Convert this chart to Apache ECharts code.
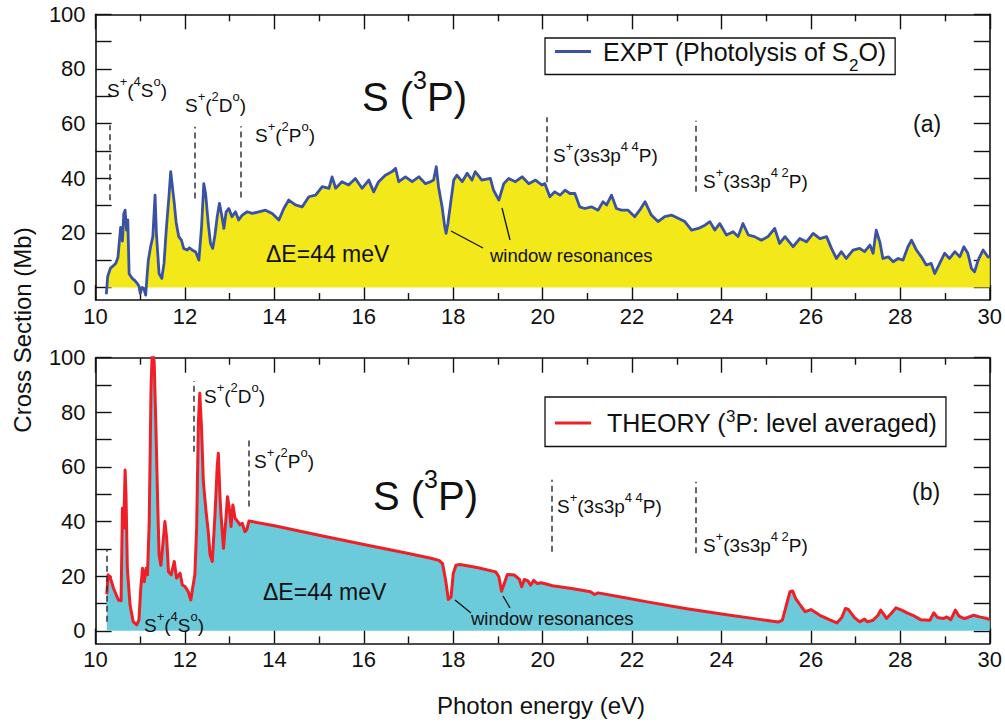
<!DOCTYPE html>
<html>
<head>
<meta charset="utf-8">
<script src="https://cdn.jsdelivr.net/npm/echarts@6/dist/echarts.min.js"></script>
<style>
  html, body { margin: 0; padding: 0; background: #fff; }
  #chart { width: 1005px; height: 722px; }
</style>
</head>
<body>
<div id="chart"></div>
<script>
// Photoionization cross section of atomic sulfur, S(3P)
// (a) measurement, (b) R-matrix theory, both convolved to 44 meV

const energyExpt = [
  10.24, 10.27, 10.33, 10.40, 10.45, 10.50, 10.56, 10.60, 10.63, 10.66,
  10.69, 10.72, 10.75, 10.82, 10.88, 10.93, 10.97, 11.00, 11.04, 11.08,
  11.12, 11.15, 11.18, 11.23, 11.28, 11.33, 11.36, 11.42, 11.48, 11.53,
  11.58, 11.64, 11.68, 11.71, 11.76, 11.80, 11.86, 11.92, 11.97, 12.05,
  12.10, 12.16, 12.24, 12.31, 12.37, 12.42, 12.46, 12.52, 12.57, 12.62,
  12.67, 12.72, 12.77, 12.82, 12.87, 12.92, 12.98, 13.05, 13.13, 13.20,
  13.28, 13.39, 13.50, 13.65, 13.80, 13.95, 14.10, 14.21, 14.32, 14.47,
  14.62, 14.77, 14.92, 15.07, 15.22, 15.29, 15.37, 15.51, 15.66, 15.81,
  15.96, 16.11, 16.22, 16.33, 16.48, 16.63, 16.71, 16.78, 16.93, 17.08,
  17.23, 17.38, 17.49, 17.56, 17.62, 17.67, 17.75, 17.81, 17.84, 17.88,
  17.94, 18.01, 18.08, 18.20, 18.31, 18.42, 18.49, 18.64, 18.83, 18.90,
  19.02, 19.13, 19.24, 19.39, 19.54, 19.69, 19.84, 19.98, 20.05, 20.16,
  20.27, 20.39, 20.50, 20.61, 20.72, 20.83, 20.94, 21.09, 21.24, 21.35,
  21.43, 21.54, 21.65, 21.76, 21.91, 22.06, 22.17, 22.29, 22.43, 22.58,
  22.73, 22.88, 23.03, 23.18, 23.33, 23.48, 23.63, 23.74, 23.85, 23.96,
  24.11, 24.26, 24.37, 24.48, 24.60, 24.74, 24.89, 25.04, 25.19, 25.30,
  25.42, 25.60, 25.75, 25.90, 26.05, 26.20, 26.35, 26.46, 26.57, 26.68,
  26.79, 26.94, 27.09, 27.20, 27.32, 27.39, 27.46, 27.54, 27.61, 27.73,
  27.84, 27.95, 28.06, 28.17, 28.25, 28.36, 28.47, 28.58, 28.69, 28.77,
  28.88, 28.99, 29.10, 29.22, 29.33, 29.42, 29.51, 29.59, 29.66, 29.74,
  29.85, 29.96, 30.00
];
const sigmaExpt = [
  -2.5, 4.0, 7.0, 8.0, 8.8, 11.0, 22.0, 17.0, 27.0, 28.3,
  21.0, 24.7, 5.0, 3.3, 2.5, 1.5, 0.5, -2.2, 0.0, -0.4,
  -2.8, 4.0, 10.0, 14.9, 18.6, 33.8, 19.8, 5.1, 3.3, 8.8,
  21.0, 33.2, 42.4, 38.0, 30.8, 24.0, 18.6, 17.3, 14.3, 13.7,
  14.5, 13.7, 13.0, 10.0, 22.2, 38.0, 34.4, 23.4, 16.1, 14.3,
  19.2, 25.9, 30.8, 26.5, 21.6, 27.7, 28.9, 25.9, 27.7, 24.7,
  26.5, 27.7, 27.1, 27.7, 28.3, 27.1, 24.7, 28.9, 32.0, 30.2,
  29.5, 33.2, 33.8, 36.9, 36.3, 40.5, 36.3, 38.7, 37.5, 39.9,
  36.3, 39.3, 35.0, 38.7, 41.1, 42.4, 43.6, 38.7, 40.5, 38.7,
  40.5, 38.0, 38.7, 39.3, 44.2, 36.9, 29.5, 22.2, 19.8, 23.4,
  30.8, 39.3, 41.1, 38.7, 41.8, 39.3, 42.4, 39.3, 39.9, 35.6,
  32.0, 38.0, 39.9, 38.7, 40.5, 38.0, 39.3, 37.5, 38.0, 33.2,
  35.0, 33.8, 35.6, 34.4, 34.4, 29.5, 28.9, 29.5, 28.3, 31.4,
  30.2, 33.8, 28.9, 28.3, 28.3, 25.9, 28.3, 31.4, 26.5, 24.1,
  25.9, 26.5, 25.3, 24.1, 21.0, 21.6, 22.8, 24.1, 21.0, 23.4,
  19.2, 20.4, 18.6, 23.4, 19.2, 18.6, 17.3, 18.6, 21.6, 16.1,
  18.6, 14.9, 17.9, 16.7, 19.8, 17.9, 18.6, 14.3, 10.6, 13.1,
  10.6, 13.7, 14.3, 13.1, 15.5, 12.5, 21.0, 16.7, 10.6, 11.2,
  9.4, 10.6, 10.0, 14.9, 17.3, 13.7, 11.2, 8.2, 8.8, 5.1,
  8.8, 12.5, 10.6, 13.1, 11.2, 14.9, 12.5, 7.0, 5.7, 10.0,
  13.7, 11.2, 11.0
];

const energyTheory = [
  10.25, 10.28, 10.32, 10.40, 10.51, 10.57, 10.60, 10.63, 10.66, 10.68,
  10.71, 10.77, 10.84, 10.92, 10.97, 11.01, 11.05, 11.09, 11.13, 11.16,
  11.20, 11.24, 11.27, 11.31, 11.35, 11.39, 11.42, 11.46, 11.51, 11.55,
  11.59, 11.63, 11.69, 11.76, 11.81, 11.89, 11.94, 12.00, 12.07, 12.13,
  12.17, 12.22, 12.26, 12.30, 12.33, 12.37, 12.41, 12.47, 12.52, 12.56,
  12.61, 12.67, 12.72, 12.745, 12.78, 12.80, 12.86, 12.91, 12.95, 12.99,
  13.03, 13.07, 13.12, 13.18, 13.23, 13.28, 13.34, 13.38, 13.43, 14.00,
  15.00, 16.00, 17.00, 17.50, 17.68, 17.76, 17.83, 17.89, 17.95, 18.00,
  18.06, 18.15, 18.53, 18.95, 19.02, 19.08, 19.14, 19.21, 19.37, 19.48,
  19.53, 19.59, 19.67, 19.73, 19.80, 19.88, 19.97, 20.22, 20.65, 21.07,
  21.16, 21.24, 21.75, 22.34, 23.19, 24.04, 24.89, 25.27, 25.36, 25.44,
  25.53, 25.59, 25.66, 25.78, 25.87, 26.00, 26.08, 26.20, 26.41, 26.58,
  26.69, 26.77, 26.84, 26.97, 27.09, 27.20, 27.26, 27.39, 27.50, 27.56,
  27.62, 27.69, 27.81, 27.90, 28.03, 28.15, 28.28, 28.45, 28.66, 28.75,
  28.83, 28.96, 29.04, 29.13, 29.23, 29.31, 29.43, 29.51, 29.64, 29.77,
  29.94, 30.00
];
const sigmaTheory = [
  13.4, 20.5, 19.9, 15.6, 11.3, 11.0, 44.9, 37.6, 58.9, 49.8,
  22.9, 9.5, 3.4, 2.2, 4.0, 15.6, 22.9, 18.0, 22.9, 20.5,
  40.0, 88.8, 104.0, 98.5, 74.0, 46.0, 27.8, 24.0, 32.7, 40.0,
  33.9, 21.7, 20.5, 25.4, 19.3, 21.1, 16.8, 16.2, 14.4, 11.3,
  15.6, 20.5, 37.6, 76.6, 87.0, 74.1, 54.6, 43.7, 36.3, 27.8,
  25.4, 42.4, 60.0, 65.0, 50.0, 43.7, 30.2, 40.0, 49.1, 44.9,
  38.2, 46.1, 41.2, 40.0, 38.8, 39.4, 36.3, 37.0, 40.2, 38.5,
  35.0, 31.6, 28.3, 26.6, 25.8, 24.6, 18.5, 11.5, 12.4, 21.0,
  24.0, 24.3, 23.2, 21.6, 19.8, 14.5, 17.3, 20.6, 20.4, 18.8,
  16.1, 18.8, 18.3, 16.7, 18.5, 17.3, 17.6, 16.5, 15.5, 14.3,
  13.3, 13.9, 12.4, 10.6, 8.2, 6.1, 4.1, 3.2, 3.9, 8.8,
  14.3, 14.6, 11.8, 9.0, 7.0, 7.8, 7.0, 5.7, 4.1, 2.9,
  4.9, 8.2, 7.8, 4.9, 3.3, 4.3, 3.3, 3.9, 5.7, 7.6,
  6.3, 4.5, 6.6, 8.4, 7.6, 6.6, 5.7, 4.1, 3.9, 6.6,
  4.9, 4.5, 5.1, 4.1, 7.6, 5.4, 4.5, 4.9, 5.7, 5.1,
  4.5, 4.1
];

// ionization thresholds of S+ states (eV) and the vertical span of each dashed marker (Mb)
const thresholdEnergyA = [10.32, 12.22, 13.25, 20.10, 23.43];
const thresholdLowA    = [31.9, 32.6, 32.9, 38.5, 35.0];
const thresholdHighA   = [59.4, 58.8, 59.0, 62.3, 61.0];
const thresholdEnergyB = [10.25, 12.20, 13.43, 20.20, 23.43];
const thresholdLowB    = [3.3, 65.6, 45.5, 29.0, 28.4];
const thresholdHighB   = [29.6, 91.5, 71.1, 55.3, 54.6];

const xTickLabels = [10, 12, 14, 16, 18, 20, 22, 24, 26, 28, 30];
const yTickValues = [0, 10, 20, 30, 40, 50, 60, 70, 80, 90, 100];
const yTickLabels = [0, 20, 40, 60, 80, 100];

const NAME_EXPT = 'EXPT (Photolysis of S2O)';
const NAME_THEORY = 'THEORY (3P: level averaged)';

const FONT = "'Liberation Sans', Arial, Helvetica, sans-serif";
const INK = '#111';
const BLUE = '#3a52a4';
const YELLOW = '#f2e81a';
const RED = '#ee1f26';
const CYAN = '#6ccbdb';

const chart = echarts.init(document.getElementById('chart'), null, { renderer: 'svg' });

function pairs(xs, ys) { return xs.map((x, i) => [x, ys[i]]); }

function thresholdLines(es, lo, hi) {
  return es.map((e, i) => [{ coord: [e, lo[i]] }, { coord: [e, hi[i]] }]);
}

function xAxisFor(grid, pos, labels) {
  return {
    type: 'value', gridIndex: grid, position: pos, min: 10, max: 30, interval: 2,
    axisLine: { show: true, onZero: false, lineStyle: { color: INK, width: 1.6 } },
    axisTick: { show: true, inside: true, length: 15, lineStyle: { color: INK, width: 1.4 } },
    minorTick: { show: true, splitNumber: 2, length: 7, lineStyle: { color: INK, width: 1.4 } },
    axisLabel: {
      show: labels, fontSize: 22, fontFamily: FONT, color: INK, margin: 5,
      customValues: xTickLabels
    },
    splitLine: { show: false }, minorSplitLine: { show: false }
  };
}

function yAxisFor(grid, pos, labels) {
  return {
    type: 'value', gridIndex: grid, position: pos, min: -4.6, max: 100,
    axisLine: { show: true, onZero: false, lineStyle: { color: INK, width: 1.6 } },
    axisTick: { show: true, inside: true, length: 16, customValues: yTickValues,
                lineStyle: { color: INK, width: 1.4 } },
    axisLabel: { show: labels, customValues: yTickLabels, fontSize: 22, fontFamily: FONT,
                 color: INK, margin: 10 },
    splitLine: { show: false }
  };
}

// rich-text styles for superscripts and subscripts
function richSup(size, sup, lineN, lineS) {
  return {
    n: { fontSize: size, fontFamily: FONT, fill: INK, color: INK, lineHeight: lineN, verticalAlign: 'middle' },
    sup: { fontSize: sup, fontFamily: FONT, fill: INK, color: INK, lineHeight: lineS, verticalAlign: 'top' }
  };
}

const smallRich = richSup(19, 13, 30, 14);
const bigRich = richSup(40, 25, 60, 25);

function label(x, y, text, rich) {
  return { type: 'text', silent: true, z: 100, style: { x: x, y: y, text: text, rich: rich,
           align: 'left', verticalAlign: 'middle' } };
}
function plain(x, y, text, size, extra) {
  return Object.assign({ type: 'text', silent: true, z: 100,
    style: { x: x, y: y, text: text, font: size + 'px ' + FONT, fill: INK,
             align: 'left', verticalAlign: 'middle' } }, extra || {});
}
function leader(x1, y1, x2, y2) {
  return { type: 'line', silent: true, z: 100, shape: { x1: x1, y1: y1, x2: x2, y2: y2 },
           style: { stroke: INK, lineWidth: 1.3 } };
}

const S4S = '{n|S}{sup|+}{n|(}{sup|4}{n|S}{sup|o}{n|)}';
const S2D = '{n|S}{sup|+}{n|(}{sup|2}{n|D}{sup|o}{n|)}';
const S2P = '{n|S}{sup|+}{n|(}{sup|2}{n|P}{sup|o}{n|)}';
const S4P = '{n|S}{sup|+}{n|(3s3p}{sup|4 4}{n|P)}';
const S22P = '{n|S}{sup|+}{n|(3s3p}{sup|4 2}{n|P)}';
const TITLE = '{n|S (}{sup|3}{n|P)}';

const graphics = [
  // panel (a)
  label(107, 90, S4S, smallRich),
  label(185, 105, S2D, smallRich),
  label(255, 135, S2P, smallRich),
  label(553, 155, S4P, smallRich),
  label(703, 181, S22P, smallRich),
  label(362, 97, TITLE, bigRich),
  plain(913, 124, '(a)', 23),
  plain(266, 254, 'ΔE=44 meV', 23),
  plain(490, 255, 'window resonances', 18.5),
  leader(451, 231, 483, 248),
  leader(502, 208, 510, 240),
  // panel (b)
  label(204, 396, S2D, smallRich),
  label(254, 461, S2P, smallRich),
  label(557, 506, S4P, smallRich),
  label(703, 545, S22P, smallRich),
  label(144, 625, S4S, smallRich),
  label(373, 496, TITLE, bigRich),
  plain(912, 492, '(b)', 23),
  plain(263, 592, 'ΔE=44 meV', 23),
  plain(471, 618, 'window resonances', 18.5),
  leader(455, 600, 471, 613),
  leader(503, 596, 510, 608),
  // axis titles
  plain(22, 330, 'Cross Section (Mb)', 24,
        { rotation: Math.PI / 2, originX: 22, originY: 330 }),
  plain(541, 705, 'Photon energy (eV)', 24)
];
graphics[graphics.length - 2].style.align = 'center';
graphics[graphics.length - 1].style.align = 'center';

const dashStyle = { color: '#333', width: 1.5, type: [6, 4] };

const option = {
  animation: false,
  backgroundColor: '#fff',
  grid: [
    { left: 95.6, top: 14.3, width: 894.4, height: 285.7 },
    { left: 95.6, top: 357.7, width: 894.4, height: 285.7 }
  ],
  xAxis: [
    xAxisFor(0, 'bottom', true), xAxisFor(0, 'top', false),
    xAxisFor(1, 'bottom', true), xAxisFor(1, 'top', false)
  ],
  yAxis: [
    yAxisFor(0, 'left', true), yAxisFor(0, 'right', false),
    yAxisFor(1, 'left', true), yAxisFor(1, 'right', false)
  ],
  legend: [
    {
      data: [{ name: NAME_EXPT, icon: 'rect', itemStyle: { color: BLUE } }],
      left: 545, top: 38, padding: [1, 9, 1, 10],
      itemWidth: 36, itemHeight: 3, selectedMode: false,
      borderColor: INK, borderWidth: 1.3,
      formatter: () => '{gap|}{n|EXPT (Photolysis of S}{sub|2}{n|O)}',
      textStyle: {
        rich: {
          gap: { width: 7 },
          n: { fontSize: 25, fontFamily: FONT, color: INK, lineHeight: 44, verticalAlign: 'middle' },
          sub: { fontSize: 17, fontFamily: FONT, color: INK, lineHeight: 17, verticalAlign: 'bottom' }
        }
      }
    },
    {
      data: [{ name: NAME_THEORY, icon: 'rect', itemStyle: { color: RED } }],
      left: 545, top: 397, padding: [11, 9, 11, 10],
      itemWidth: 36, itemHeight: 3, selectedMode: false,
      borderColor: INK, borderWidth: 1.3,
      formatter: () => '{gap|}{n|THEORY (}{sup|3}{n|P: level averaged)}',
      textStyle: {
        rich: {
          gap: { width: 11 },
          n: { fontSize: 25, fontFamily: FONT, color: INK, lineHeight: 30, verticalAlign: 'middle' },
          sup: { fontSize: 17, fontFamily: FONT, color: INK, lineHeight: 18, verticalAlign: 'top' }
        }
      }
    }
  ],
  series: [
    {
      name: NAME_EXPT, type: 'line', xAxisIndex: 0, yAxisIndex: 0,
      data: pairs(energyExpt, sigmaExpt),
      showSymbol: false, symbol: 'none', color: BLUE, clip: true,
      lineStyle: { color: BLUE, width: 2.8, join: 'round' },
      areaStyle: { color: YELLOW, opacity: 1 },
      markLine: {
        silent: true, symbol: ['none', 'none'], label: { show: false },
        lineStyle: dashStyle, animation: false,
        data: thresholdLines(thresholdEnergyA, thresholdLowA, thresholdHighA)
      }
    },
    {
      name: NAME_THEORY, type: 'line', xAxisIndex: 2, yAxisIndex: 2,
      data: pairs(energyTheory, sigmaTheory),
      showSymbol: false, symbol: 'none', color: RED, clip: true,
      lineStyle: { color: RED, width: 3, join: 'round' },
      areaStyle: { color: CYAN, opacity: 1 },
      markLine: {
        silent: true, symbol: ['none', 'none'], label: { show: false },
        lineStyle: dashStyle, animation: false,
        data: thresholdLines(thresholdEnergyB, thresholdLowB, thresholdHighB)
      }
    }
  ],
  graphic: { elements: graphics }
};

chart.setOption(option);
</script>
</body>
</html>
